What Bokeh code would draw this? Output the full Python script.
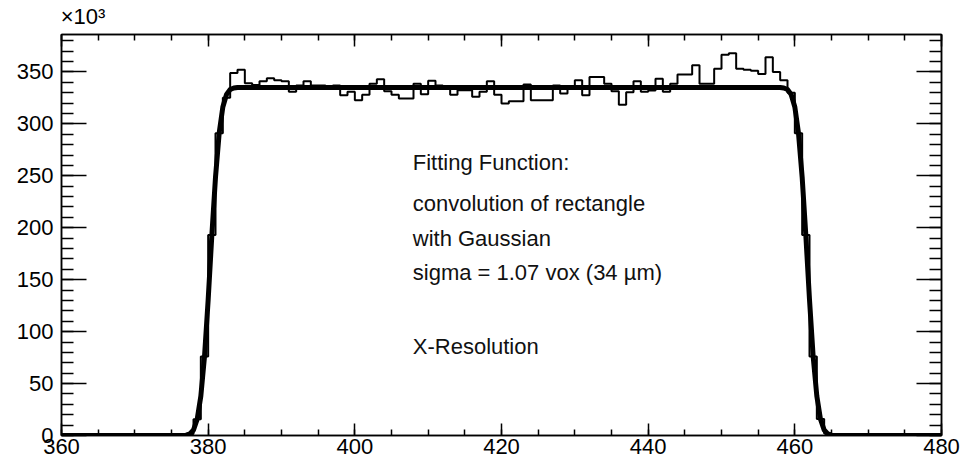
from bokeh.plotting import figure
from bokeh.models import FixedTicker, LinearAxis, Label, Range1d
from bokeh.embed import file_html
from bokeh.resources import INLINE

# ---- data (counts in units of 10^3) ----
x_major_ticks = [360, 380, 400, 420, 440, 460, 480]
x_minor_ticks = [v for v in range(360, 481, 5)]
y_major_ticks = [0, 50, 100, 150, 200, 250, 300, 350]
y_minor_ticks = [v for v in range(0, 386, 10)]
multiplier_text = "\u00d710\u00b3"

hist_first_edge = 376  # bins of width 1 starting here
hist_counts_k = [
    0, 1.5, 15.6, 76, 193, 291, 325, 349, 352, 339,       # 376-385
    337.5, 341, 344, 342, 341, 331, 337, 341, 337, 337,   # 386-395
    336, 337, 327.6, 330.8, 322.8, 328, 338.5, 343, 331.4, 328,  # 396-405
    324.4, 324.4, 338.5, 328.5, 341.5, 337, 336, 328, 332.4, 332.4,  # 406-415
    326, 331, 341, 328, 319.6, 321.8, 321.8, 337.8, 322.8, 322.8,  # 416-425
    322.8, 337, 329.2, 336, 342, 327.6, 345.2, 345.2, 338.7, 331.4,  # 426-435
    318.3, 330.5, 341, 331, 332, 343.5, 331, 338.7, 347.4, 347.4,  # 436-445
    356.4, 338.7, 338.7, 353, 366.5, 368, 353, 352, 351, 348,  # 446-455
    364, 350, 342, 330, 291, 193, 76, 16, 2, 0,  # 456-465
]

fit_x = [360, 377.0, 377.5, 378.0, 378.5, 379.0, 379.5, 380.0, 380.5, 381.0,
         381.5, 382.0, 382.5, 383.0, 383.5, 384.0,
         458.0, 458.5, 459.0, 459.5, 460.0, 460.5, 461.0, 461.5, 462.0, 462.5,
         463.0, 463.5, 464.0, 464.5, 465.0, 480]
fit_y_k = [0, 0.3, 1.5, 5.3, 15.6, 37.9, 76, 130.7, 192.6, 248.6,
           291, 316.2, 328.3, 333, 334.5, 335,
           335, 334.5, 333, 328.3, 316.2, 291, 248.6, 192.6, 130.7, 76,
           37.9, 15.6, 5.3, 1.5, 0.3, 0]

note_lines = ["Fitting Function:", "convolution of rectangle", "with Gaussian",
              "sigma = 1.07 vox (34 \u00b5m)", "X-Resolution"]
note_x = 407.9
note_y = [262.5, 223.4, 189.9, 157.3, 85.3]

FONT = "Liberation Sans"
FS = "22px"

p = figure(width=979, height=464, x_range=Range1d(360, 480), y_range=Range1d(0, 386),
           output_backend="svg", toolbar_location=None,
           min_border_left=61, min_border_right=38, min_border_top=32, min_border_bottom=29)
p.background_fill_color = "white"
p.border_fill_color = "white"
p.xgrid.visible = False
p.ygrid.visible = False
p.outline_line_color = "black"
p.outline_line_width = 1.5

xt = FixedTicker(ticks=x_major_ticks, minor_ticks=x_minor_ticks)
yt = FixedTicker(ticks=y_major_ticks, minor_ticks=y_minor_ticks)

def style_x(ax, labels=True):
    ax.ticker = xt
    ax.axis_line_width = 1.5
    ax.major_tick_in = 12
    ax.major_tick_out = 0
    ax.minor_tick_in = 6
    ax.minor_tick_out = 0
    ax.major_tick_line_width = 1.5
    ax.minor_tick_line_width = 1.5
    ax.major_label_text_font = FONT
    ax.major_label_text_font_size = FS
    ax.major_label_text_color = "black"
    ax.major_label_standoff = 3
    if not labels:
        ax.major_label_overrides = {t: "" for t in x_major_ticks}
        ax.major_label_text_font_size = "1px"
        ax.major_label_standoff = 0

def style_y(ax, labels=True):
    ax.ticker = yt
    ax.axis_line_width = 1.5
    ax.major_tick_in = 25
    ax.major_tick_out = 0
    ax.minor_tick_in = 12
    ax.minor_tick_out = 0
    ax.major_tick_line_width = 1.5
    ax.minor_tick_line_width = 1.5
    ax.major_label_text_font = FONT
    ax.major_label_text_font_size = FS
    ax.major_label_text_color = "black"
    ax.major_label_standoff = 8
    if not labels:
        ax.major_label_overrides = {t: "" for t in y_major_ticks}
        ax.major_label_text_font_size = "1px"
        ax.major_label_standoff = 0

style_x(p.xaxis[0])
style_y(p.yaxis[0])
top_ax = LinearAxis()
style_x(top_ax, labels=False)
p.add_layout(top_ax, "above")
right_ax = LinearAxis()
style_y(right_ax, labels=False)
p.add_layout(right_ax, "right")

# multiplier shown above the frame's top-left corner, as ROOT does
mult_pos = 362.93
mult_ax = LinearAxis(ticker=FixedTicker(ticks=[mult_pos], minor_ticks=[]),
                     major_label_overrides={mult_pos: multiplier_text},
                     axis_line_color=None, major_tick_line_color=None,
                     minor_tick_line_color=None, major_label_standoff=0,
                     major_label_text_font=FONT, major_label_text_font_size=FS,
                     major_label_text_color="black")
p.add_layout(mult_ax, "above")

# histogram outline
edges = list(range(hist_first_edge, hist_first_edge + len(hist_counts_k) + 1))
hx = [360] + edges + [480]
hy = [0] + hist_counts_k + [0, 0]
p.step(x=hx, y=hy, mode="after", line_color="black", line_width=2)

# fit function
p.line(x=fit_x, y=fit_y_k, line_color="black", line_width=5, line_join="round")

for txt, yy in zip(note_lines, note_y):
    p.add_layout(Label(x=note_x, y=yy, text=txt, text_font=FONT, text_font_size=FS,
                       text_color="#111111", text_baseline="alphabetic"))

open("out.html", "w").write(file_html(p, INLINE))
